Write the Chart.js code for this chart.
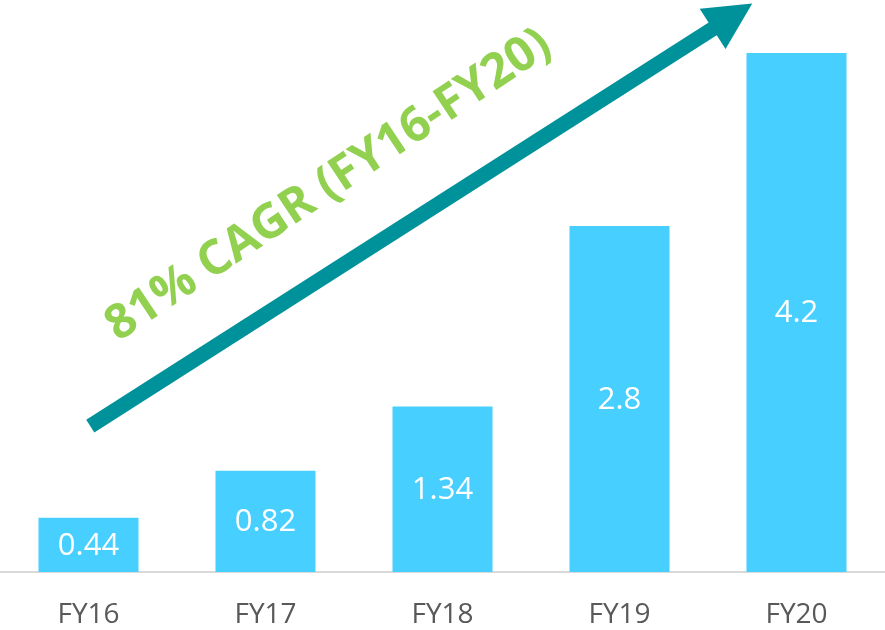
<!DOCTYPE html>
<html lang="en">
<head>
  <meta charset="UTF-8" />
  <title>CAGR FY16-FY20</title>
  <script src="https://cdn.jsdelivr.net/npm/chart.js"></script>
  <style>
    body { margin: 0; background: #fff; }
    .wrap { width: 885px; height: 630px; position: relative; }
  </style>
</head>
<body>
  <div class="wrap"><canvas id="chart"></canvas></div>
  <script>
    // data
    const years = ['FY16', 'FY17', 'FY18', 'FY19', 'FY20'];
    const values = [0.44, 0.82, 1.34, 2.8, 4.2];
    const cagrText = '81% CAGR (FY16-FY20)';

    // arrow ends in scale units: [category index, value]
    const arrowFrom = [0.01, 1.18];
    const arrowTo = [3.75, 4.6];

    const FONT = '"Open Sans", "Noto Sans", sans-serif';

    const barLabels = {
      id: 'barLabels',
      afterDatasetsDraw(chart) {
        const ctx = chart.ctx;
        const meta = chart.getDatasetMeta(0);
        ctx.save();
        ctx.fillStyle = '#ffffff';
        ctx.font = '31px ' + FONT;
        ctx.textAlign = 'center';
        ctx.textBaseline = 'middle';
        meta.data.forEach((bar, i) => {
          ctx.fillText(String(values[i]), bar.x, (bar.y + bar.base) / 2 + 1);
        });
        ctx.restore();
      }
    };

    const cagrArrow = {
      id: 'cagrArrow',
      afterDraw(chart) {
        const ctx = chart.ctx;
        const xs = chart.scales.x, ys = chart.scales.y;
        const x1 = xs.getPixelForValue(arrowFrom[0]), y1 = ys.getPixelForValue(arrowFrom[1]);
        const x2 = xs.getPixelForValue(arrowTo[0]), y2 = ys.getPixelForValue(arrowTo[1]);
        const ang = Math.atan2(y2 - y1, x2 - x1);
        const headLen = 47, headHalf = 24;
        const bx = x2 - headLen * Math.cos(ang), by = y2 - headLen * Math.sin(ang);
        ctx.save();
        ctx.strokeStyle = '#00929a';
        ctx.fillStyle = '#00929a';
        ctx.lineWidth = 15;
        ctx.beginPath();
        ctx.moveTo(x1, y1);
        ctx.lineTo(bx + Math.cos(ang), by + Math.sin(ang));
        ctx.stroke();
        ctx.beginPath();
        ctx.moveTo(x2, y2);
        ctx.lineTo(bx + headHalf * Math.sin(ang), by - headHalf * Math.cos(ang));
        ctx.lineTo(bx - headHalf * Math.sin(ang), by + headHalf * Math.cos(ang));
        ctx.closePath();
        ctx.fill();

        // label above the arrow
        const mx = (x1 + bx) / 2, my = (y1 + by) / 2;
        ctx.translate(mx - 50 * Math.sin(-ang) - 46, my - 50 * Math.cos(ang) + 0);
        ctx.rotate(ang - 0.02);
        ctx.fillStyle = '#92d050';
        ctx.font = 'bold 48px ' + FONT;
        ctx.textAlign = 'center';
        ctx.textBaseline = 'middle';
        ctx.fillText(cagrText, 0, 0);
        ctx.restore();
      }
    };

    new Chart(document.getElementById('chart'), {
      type: 'bar',
      data: {
        labels: years,
        datasets: [{
          data: values,
          backgroundColor: '#47cfff',
          barPercentage: 0.565,
          categoryPercentage: 1
        }]
      },
      options: {
        responsive: true,
        maintainAspectRatio: false,
        animation: false,
        layout: { padding: { top: 53, left: 0, right: 0, bottom: 0 } },
        plugins: { legend: { display: false }, tooltip: { enabled: false } },
        scales: {
          x: {
            grid: { display: false, drawTicks: false },
            border: { display: true, color: '#d9d9d9', width: 2 },
            ticks: { color: '#595959', font: { family: FONT, size: 28 }, padding: 26 },
            afterFit(scale) { scale.height = 58; }
          },
          y: {
            display: false,
            min: 0,
            max: 4.2
          }
        }
      },
      plugins: [barLabels, cagrArrow]
    });
  </script>
</body>
</html>
